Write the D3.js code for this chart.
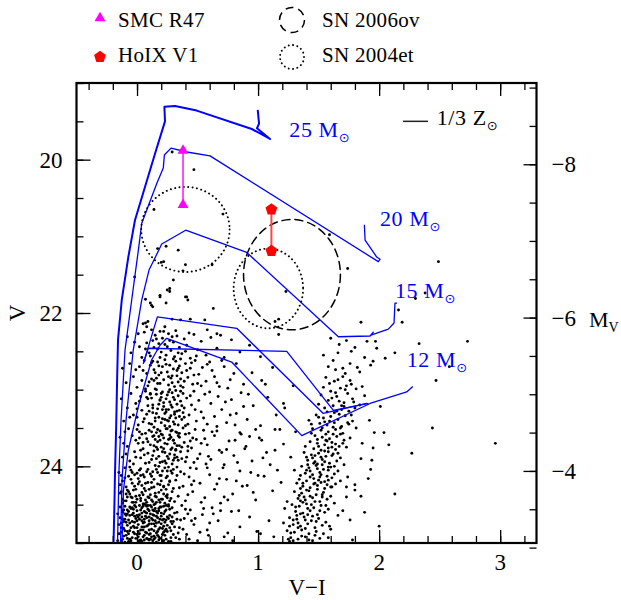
<!DOCTYPE html>
<html>
<head>
<meta charset="utf-8">
<script src="https://cdn.jsdelivr.net/npm/d3@7"></script>
<style>
body { margin: 0; background: #fff; }
text { font-family: "Liberation Serif", "Times New Roman", serif; }
</style>
</head>
<body>
<div id="chart"></div>
<script>
var width = 621;
var height = 600;
var margin = {top: 83, right: 84.5, bottom: 57, left: 76.5};
var w = width - margin.left - margin.right;
var h = height - margin.top - margin.bottom;

// axes
var xDomain = [-0.5, 3.3];
var vDomain = [19, 25];
var distMod = 28.06;
var xMajor = [0, 1, 2, 3];
var vMajor = [20, 22, 24];
var mMajor = [-8, -6, -4];

// evolutionary tracks (V-I, V)
var track25 = [[-0.194,25.00],[-0.186,24.44],[-0.182,24.09],[-0.173,23.53],[-0.165,22.91],[-0.157,22.35],[-0.126,21.83],[-0.072,21.27],[-0.017,20.79],[0.149,19.92],[0.231,19.50],[0.226,19.31],[0.314,19.30],[0.493,19.36],[0.948,19.60],[1.099,19.73],[0.991,19.59],[1.008,19.53],[0.997,19.35]];
var track20 = [[-0.161,25.00],[-0.149,24.05],[-0.132,23.40],[-0.099,22.48],[-0.044,21.83],[0.011,21.18],[0.039,20.83],[0.163,20.31],[0.217,20.11],[0.226,19.94],[0.281,19.85],[0.411,19.90],[0.603,19.95],[1.993,21.33],[2.007,21.30],[1.980,21.27],[1.884,21.05],[1.878,20.85]];
var track15 = [[-0.136,25.00],[-0.124,24.18],[-0.091,23.40],[-0.031,22.48],[0.039,21.83],[0.099,21.44],[0.149,21.28],[0.204,21.10],[0.402,20.92],[0.906,21.21],[1.663,22.31],[1.925,22.30],[1.952,22.25],[1.933,22.29],[2.076,22.21],[2.123,22.13],[2.131,21.87],[2.148,21.87]];
var track12 = [[-0.124,25.00],[-0.112,24.31],[-0.072,23.79],[0.011,23.22],[0.121,22.61],[0.190,22.42],[0.245,22.33],[0.782,22.64],[1.361,23.60],[1.925,23.18],[2.228,23.03],[2.278,22.96]];
var loopA = [[0.052,22.66],[0.168,22.05],[0.824,22.20],[1.539,23.31],[1.898,23.18],[1.911,23.19]];
var loopB = [[0.052,22.66],[0.093,22.46],[1.237,22.50],[1.622,23.27],[1.911,23.18]];

// stars and progenitor error circles
var smcR47 = [[0.38, 19.88], [0.38, 20.59]];
var hoixV1 = [[1.11, 20.65], [1.11, 21.19]];
var sn2006ov = [{x: 1.28, v: 21.50, dx: 0.40, dv: 0.72}];
var sn2004et = [{x: 0.40, v: 20.91, dx: 0.365, dv: 0.555}, {x: 1.085, v: 21.68, dx: 0.287, dv: 0.52}];

// field stars (V-I, V)
var field = [
// bright sparse
[0.29,19.90],[0.47,20.13],[0.14,20.65],[0.71,20.71],[0.24,21.13],[0.17,21.16],[0.34,21.18],[0.20,21.34],[0.40,21.37],[0.62,21.37],[0.38,21.45],[-0.02,21.53],[0.30,21.57],[0.25,21.70],[0.27,21.68],[0.07,21.82],[0.12,21.90],[0.19,21.79],[0.24,21.87],[0.41,21.79],[0.42,21.83],[0.63,21.94],[1.59,20.98],[1.74,21.42],[1.23,21.72],[0.22,21.33],[0.19,21.77],[0.08,22.18],[0.01,22.27],[0.05,22.14],[2.49,21.33],[2.30,21.81],[2.38,21.74],[2.16,21.96],[2.19,22.12],[1.85,22.12],[1.17,22.08],[1.17,22.28],[1.14,22.11],[0.11,21.87],[0.13,21.92],[0.27,21.72],[0.40,21.79],[0.07,22.13],[0.09,22.11],[0.23,22.18],[0.29,22.08],[0.36,22.09],[0.44,22.08],[0.56,22.09],[0.66,22.27],[0.19,22.24],
// blue plume 22.2-22.6
[-0.08,22.31],[0.02,22.44],[0.06,22.25],[0.10,22.52],[0.13,22.36],[0.15,22.29],[0.17,22.47],[0.19,22.58],[0.21,22.33],[0.23,22.41],[0.24,22.55],[0.26,22.27],[0.28,22.49],[0.30,22.38],[0.31,22.57],[0.33,22.30],[0.35,22.45],[0.37,22.53],[0.39,22.34],[0.41,22.42],[0.44,22.59],[0.47,22.28],[0.50,22.48],[0.53,22.37],[0.57,22.55],[0.61,22.32],[0.66,22.46],[0.72,22.58],[0.78,22.35],[0.85,22.51],[0.93,22.42],[1.02,22.57],[-0.05,22.52],[0.04,22.58],[0.08,22.39],[0.12,22.22],[0.18,22.40],[0.22,22.24],[0.27,22.36],[0.32,22.23],[0.36,22.60],[0.43,22.26],[0.49,22.56],[0.58,22.22],[0.69,22.29],[0.11,22.56],[0.20,22.51],[0.25,22.44],[0.14,22.45],[0.29,22.31],[0.34,22.52],[0.16,22.34],[0.07,22.47],[-0.02,22.38],[0.40,22.50],
// 22.6-23.0
[-0.12,22.72],[-0.09,22.91],[-0.06,22.66],[-0.03,22.83],[0.00,22.97],[0.02,22.70],[0.04,22.88],[0.06,22.62],[0.08,22.79],[0.09,22.95],[0.11,22.68],[0.12,22.86],[0.14,22.74],[0.15,22.99],[0.17,22.64],[0.18,22.81],[0.19,22.92],[0.21,22.70],[0.22,22.87],[0.23,22.61],[0.25,22.77],[0.26,22.94],[0.27,22.68],[0.28,22.85],[0.30,22.73],[0.31,22.96],[0.32,22.63],[0.33,22.82],[0.34,22.90],[0.35,22.69],[0.37,22.78],[0.38,22.97],[0.40,22.66],[0.42,22.84],[0.44,22.72],[0.46,22.93],[0.48,22.62],[0.51,22.80],[0.54,22.71],[0.57,22.89],[0.60,22.64],[0.64,22.83],[0.68,22.96],[0.72,22.70],[0.77,22.87],[0.82,22.66],[0.88,22.93],[0.95,22.78],[1.03,22.88],[1.12,22.71],[0.05,22.75],[0.10,22.90],[0.13,22.63],[0.16,22.85],[0.20,22.78],[0.24,22.67],[0.29,22.91],[0.36,22.86],[0.41,22.75],[0.47,22.81],[0.53,22.95],[0.62,22.75],[0.70,22.62],[0.80,22.79],[-0.01,22.74],[0.07,22.99],[0.18,22.69],[0.26,22.83],[0.33,22.75],[0.39,22.89],[0.45,22.65],[0.50,22.92],[0.58,22.67],[0.66,22.91],[0.75,22.98],
// 23.0-23.5
[-0.13,23.12],[-0.11,23.41],[-0.08,23.24],[-0.05,23.05],[-0.03,23.33],[-0.01,23.18],[0.01,23.46],[0.03,23.09],[0.04,23.27],[0.06,23.38],[0.07,23.02],[0.09,23.21],[0.10,23.44],[0.12,23.11],[0.13,23.30],[0.14,23.49],[0.16,23.06],[0.17,23.25],[0.18,23.36],[0.19,23.14],[0.20,23.43],[0.21,23.03],[0.22,23.22],[0.23,23.31],[0.24,23.12],[0.25,23.40],[0.25,23.07],[0.26,23.26],[0.27,23.48],[0.27,23.16],[0.28,23.34],[0.29,23.04],[0.29,23.23],[0.30,23.42],[0.31,23.13],[0.31,23.29],[0.32,23.01],[0.32,23.37],[0.33,23.19],[0.34,23.46],[0.34,23.08],[0.35,23.27],[0.36,23.15],[0.37,23.39],[0.38,23.05],[0.39,23.24],[0.40,23.47],[0.41,23.11],[0.43,23.33],[0.45,23.20],[0.47,23.02],[0.49,23.41],[0.51,23.14],[0.53,23.29],[0.56,23.06],[0.58,23.45],[0.61,23.18],[0.64,23.35],[0.67,23.09],[0.70,23.26],[0.74,23.43],[0.78,23.13],[0.82,23.31],[0.86,23.04],[0.91,23.39],[0.96,23.21],[1.02,23.47],[1.08,23.10],[1.15,23.33],[1.22,23.24],[0.02,23.15],[0.08,23.32],[0.11,23.05],[0.15,23.41],[0.18,23.19],[0.21,23.38],[0.23,23.47],[0.26,23.03],[0.28,23.20],[0.30,23.10],[0.31,23.45],[0.33,23.28],[0.35,23.35],[0.36,23.02],[0.38,23.30],[0.42,23.45],[0.44,23.08],[0.48,23.26],[0.55,23.37],[0.60,23.03],[0.66,23.48],[0.73,23.16],[0.81,23.46],[0.88,23.22],[-0.06,23.36],[0.00,23.25],[0.05,23.42],[0.09,23.12],[0.13,23.20],[0.16,23.31],[0.20,23.10],[0.24,23.26],[0.27,23.37],
// 23.5-24.0
[-0.14,23.62],[-0.12,23.88],[-0.10,23.55],[-0.08,23.74],[-0.06,23.93],[-0.04,23.60],[-0.02,23.81],[0.00,23.52],[0.01,23.70],[0.03,23.89],[0.04,23.58],[0.05,23.77],[0.07,23.96],[0.08,23.64],[0.09,23.83],[0.10,23.53],[0.11,23.72],[0.12,23.91],[0.13,23.61],[0.14,23.80],[0.15,23.99],[0.16,23.56],[0.17,23.68],[0.18,23.87],[0.19,23.54],[0.20,23.75],[0.21,23.94],[0.22,23.63],[0.23,23.82],[0.24,23.51],[0.25,23.71],[0.26,23.90],[0.27,23.59],[0.28,23.78],[0.29,23.97],[0.30,23.66],[0.31,23.85],[0.32,23.55],[0.33,23.73],[0.34,23.92],[0.35,23.62],[0.36,23.81],[0.38,23.50],[0.39,23.69],[0.41,23.88],[0.43,23.57],[0.45,23.76],[0.47,23.95],[0.49,23.65],[0.52,23.84],[0.55,23.53],[0.58,23.72],[0.61,23.91],[0.64,23.60],[0.68,23.79],[0.72,23.98],[0.76,23.67],[0.80,23.86],[0.85,23.56],[0.90,23.74],[0.95,23.93],[1.01,23.63],[1.07,23.82],[1.14,23.52],[1.21,23.71],[-0.11,23.70],[-0.07,23.51],[-0.03,23.97],[0.02,23.63],[0.06,23.85],[0.09,23.68],[0.12,23.55],[0.14,23.73],[0.16,23.90],[0.18,23.61],[0.20,23.58],[0.22,23.77],[0.24,23.96],[0.26,23.65],[0.27,23.84],[0.29,23.53],[0.31,23.70],[0.33,23.88],[0.35,23.57],[0.37,23.75],[0.40,23.94],[0.44,23.67],[0.48,23.52],[0.53,23.70],[0.59,23.87],[0.66,23.54],[0.74,23.78],[0.83,23.95],[0.93,23.61],[1.04,23.89],[-0.09,23.84],[-0.01,23.66],[0.03,23.79],[0.07,23.57],[0.10,23.95],[0.13,23.86],[0.15,23.65],[0.17,23.78],[0.19,23.95],[0.21,23.59],[0.23,23.70],[0.25,23.87],[0.28,23.62],[0.30,23.92],[0.32,23.79],[0.34,23.60],[0.37,23.90],[0.42,23.74],[0.46,23.63],[0.50,23.90],[0.56,23.64],
// 24.0-24.5
[-0.15,24.08],[-0.13,24.33],[-0.12,24.19],[-0.11,24.45],[-0.10,24.02],[-0.09,24.27],[-0.08,24.40],[-0.07,24.13],[-0.06,24.36],[-0.05,24.05],[-0.04,24.22],[-0.03,24.47],[-0.02,24.11],[-0.01,24.30],[0.00,24.43],[0.01,24.16],[0.02,24.38],[0.03,24.03],[0.04,24.25],[0.05,24.49],[0.06,24.14],[0.07,24.32],[0.08,24.07],[0.09,24.21],[0.10,24.41],[0.11,24.10],[0.12,24.28],[0.13,24.46],[0.14,24.17],[0.15,24.35],[0.16,24.04],[0.17,24.23],[0.18,24.44],[0.19,24.12],[0.20,24.31],[0.21,24.06],[0.22,24.26],[0.23,24.48],[0.24,24.15],[0.25,24.37],[0.26,24.01],[0.27,24.20],[0.28,24.42],[0.29,24.09],[0.30,24.29],[0.32,24.18],[0.34,24.39],[0.36,24.07],[0.38,24.26],[0.40,24.45],[0.43,24.14],[0.46,24.33],[0.49,24.03],[0.52,24.22],[0.56,24.41],[0.60,24.11],[0.64,24.30],[0.69,24.48],[0.74,24.17],[0.79,24.36],[0.85,24.06],[0.91,24.25],[0.98,24.44],[1.05,24.13],[1.12,24.32],[1.19,24.21],[-0.14,24.24],[-0.12,24.48],[-0.10,24.15],[-0.08,24.31],[-0.06,24.01],[-0.04,24.41],[-0.02,24.26],[0.00,24.09],[0.02,24.20],[0.03,24.45],[0.05,24.11],[0.06,24.29],[0.08,24.47],[0.09,24.04],[0.11,24.37],[0.12,24.13],[0.14,24.27],[0.15,24.49],[0.17,24.08],[0.18,24.34],[0.20,24.19],[0.21,24.43],[0.23,24.02],[0.24,24.30],[0.26,24.24],[0.28,24.06],[0.31,24.46],[0.33,24.12],[0.35,24.28],[0.39,24.10],[0.42,24.37],[0.47,24.19],[0.53,24.47],[0.58,24.02],[0.66,24.23],[0.72,24.40],[0.82,24.19],[0.94,24.08],[-0.13,24.12],[-0.09,24.36],[-0.05,24.17],[-0.01,24.39],[0.02,24.05],[0.04,24.34],[0.07,24.22],[0.10,24.30],[0.13,24.07],[0.16,24.40],[0.19,24.24],[0.22,24.36],[0.25,24.13],[0.27,24.45],[0.30,24.04],[0.07,24.44],[0.12,24.21],[-0.03,24.31],[0.19,24.47],[0.01,24.23],
// 24.5-25.0
[-0.16,24.62],[-0.15,24.88],[-0.14,24.53],[-0.13,24.74],[-0.12,24.95],[-0.12,24.60],[-0.11,24.81],[-0.10,24.52],[-0.10,24.69],[-0.09,24.90],[-0.08,24.57],[-0.08,24.77],[-0.07,24.98],[-0.06,24.64],[-0.06,24.84],[-0.05,24.55],[-0.04,24.72],[-0.04,24.93],[-0.03,24.61],[-0.02,24.80],[-0.02,24.51],[-0.01,24.68],[0.00,24.89],[0.00,24.58],[0.01,24.76],[0.02,24.97],[0.02,24.63],[0.03,24.83],[0.04,24.54],[0.04,24.71],[0.05,24.92],[0.06,24.59],[0.06,24.79],[0.07,24.50],[0.08,24.67],[0.08,24.87],[0.09,24.56],[0.10,24.75],[0.10,24.96],[0.11,24.62],[0.12,24.82],[0.12,24.53],[0.13,24.70],[0.14,24.91],[0.14,24.58],[0.15,24.78],[0.16,24.99],[0.16,24.65],[0.17,24.85],[0.18,24.55],[0.18,24.73],[0.19,24.94],[0.20,24.61],[0.21,24.81],[0.22,24.52],[0.22,24.69],[0.23,24.90],[0.24,24.57],[0.25,24.77],[0.26,24.98],[0.27,24.64],[0.28,24.84],[0.29,24.54],[0.30,24.72],[0.32,24.93],[0.33,24.60],[0.35,24.80],[0.37,24.51],[0.39,24.68],[0.41,24.89],[0.44,24.57],[0.47,24.76],[0.50,24.97],[0.54,24.63],[0.58,24.83],[0.62,24.54],[0.67,24.71],[0.72,24.92],[0.78,24.59],[0.85,24.79],[0.93,24.66],[1.02,24.88],[-0.14,24.67],[-0.13,24.86],[-0.11,24.57],[-0.10,24.99],[-0.09,24.73],[-0.07,24.59],[-0.06,24.95],[-0.05,24.80],[-0.04,24.63],[-0.03,24.86],[-0.01,24.53],[-0.01,24.94],[0.01,24.66],[0.01,24.85],[0.03,24.57],[0.03,24.96],[0.05,24.74],[0.05,24.52],[0.07,24.86],[0.07,24.65],[0.09,24.95],[0.09,24.77],[0.11,24.51],[0.11,24.88],[0.13,24.63],[0.13,24.97],[0.15,24.71],[0.15,24.55],[0.17,24.90],[0.17,24.67],[0.19,24.80],[0.19,24.53],[0.21,24.97],[0.21,24.70],[0.23,24.59],[0.23,24.84],[0.25,24.66],[0.26,24.52],[0.28,24.93],[0.29,24.75],[0.31,24.61],[0.34,24.87],[0.36,24.70],[0.40,24.56],[0.43,24.95],[0.48,24.68],[0.52,24.86],[0.60,24.74],[0.69,24.58],[0.75,24.87],[-0.15,24.76],[-0.12,24.69],[-0.08,24.85],[-0.05,24.97],[-0.02,24.73],[0.00,24.64],[0.02,24.88],[0.04,24.79],[0.06,24.69],[0.08,24.94],[0.10,24.58],[0.12,24.75],[0.14,24.84],[0.16,24.59],[0.18,24.92],[0.20,24.75],[0.22,24.86],[0.24,24.70],[0.27,24.80],[0.30,24.89],[-0.11,24.91],[-0.07,24.70],[-0.03,24.56],[0.01,24.99],[0.04,24.61],[0.08,24.52],[0.12,24.92],[0.16,24.74],[0.20,24.53],[0.24,24.95],[-0.09,24.64],[0.06,24.96],[0.14,24.64],[0.22,24.78],[-0.13,24.98],[0.10,24.83],
// blue plume, densest parts
[-0.14,24.35],[-0.12,24.58],[-0.11,24.72],[-0.09,24.45],[-0.08,24.62],[-0.07,24.88],[-0.05,24.40],[-0.04,24.54],[-0.03,24.78],[-0.01,24.47],[0.00,24.71],[0.01,24.92],[0.03,24.42],[0.04,24.66],[0.05,24.83],[0.06,24.49],[0.07,24.60],[0.08,24.78],[0.09,24.40],[0.10,24.66],[0.11,24.95],[0.12,24.44],[0.13,24.57],[0.14,24.75],[0.15,24.93],[0.16,24.47],[0.17,24.61],[0.18,24.82],[0.19,24.69],[0.20,24.43],[0.21,24.89],[0.22,24.62],[0.23,24.73],[0.24,24.51],[0.25,24.85],[0.26,24.68],[0.27,24.56],[0.28,24.98],[0.29,24.66],[0.31,24.79],[-0.13,24.80],[-0.10,24.62],[-0.06,24.74],[-0.02,24.88],[0.02,24.69],[0.06,24.90],[0.10,24.71],[0.14,24.50],[0.18,24.96],[0.22,24.97],[-0.16,24.97],[-0.12,24.43],[-0.08,24.94],[-0.04,24.47],[0.00,24.80],[0.04,24.98],[0.08,24.61],[0.12,24.68],[0.16,24.87],[0.20,24.65],[0.24,24.82],[0.28,24.72],[-0.10,24.84],[-0.06,24.53],[-0.02,24.65],[0.02,24.51],[0.06,24.73],[0.10,24.89],[0.14,24.95],[0.18,24.58],[0.33,24.69],[0.38,24.82],[0.45,24.71],[0.35,24.95],[0.42,24.62],[0.05,24.37],[0.15,24.39],[0.25,24.41],[-0.07,24.33],[0.09,24.51],
[0.12,22.65],[0.15,22.78],[0.17,22.92],[0.20,23.05],[0.22,23.17],[0.24,23.29],[0.26,23.41],[0.28,23.54],[0.30,23.66],[0.32,23.78],[0.14,22.88],[0.16,23.00],[0.19,23.13],[0.21,23.26],[0.23,23.39],[0.25,23.51],[0.27,23.64],[0.29,23.76],[0.31,23.89],[0.33,24.01],[0.11,23.06],[0.13,23.24],[0.15,23.37],[0.17,23.52],[0.19,23.66],[0.21,23.81],[0.23,23.93],[0.25,24.06],[0.27,24.19],[0.29,24.33],[0.08,23.10],[0.10,23.28],[0.12,23.45],[0.14,23.60],[0.16,23.75],[0.18,24.00],[0.20,24.12],[0.22,24.27],[0.24,24.39],[0.26,24.50],[0.34,22.72],[0.36,22.95],[0.37,23.21],[0.39,23.36],[0.40,23.58],[0.42,23.80],[0.44,24.02],[0.45,24.24],[0.30,22.60],[0.29,22.82],[0.27,23.00],[0.31,23.32],[0.33,23.56],[0.35,23.73],[0.02,23.55],[0.05,23.69],[-0.01,23.88],[0.03,24.12],[-0.04,24.08],[0.00,23.36],
// middle
[0.62,23.55],[0.71,24.02],[0.77,23.33],[0.84,24.58],[0.89,23.77],[0.96,24.34],[1.03,23.66],[1.09,24.71],[1.16,24.05],[1.24,24.46],[1.27,23.88],[1.18,23.52],[1.10,23.98],[0.99,24.85],[0.87,24.26],[0.79,24.97],[0.70,23.82],[0.63,24.62],[0.57,23.97],[1.13,24.92],[1.21,23.18],[1.06,22.93],[0.92,23.06],[0.86,23.58],[0.75,24.44],[0.68,24.16],[0.98,23.52],[1.26,24.98],[1.31,23.55],[1.29,22.95],[0.55,24.55],[0.59,24.90],[0.81,23.66],[1.00,24.12],[1.14,23.79],
// red plume
[1.73,22.36],[1.80,22.45],[1.66,22.52],[1.88,22.58],[1.62,22.62],[1.76,22.66],[1.70,22.72],[1.84,22.77],[1.58,22.70],[1.93,22.68],[1.67,22.41],[1.77,22.50],[1.54,22.55],[1.98,22.46],[1.72,22.79],[1.60,22.33],[1.82,22.71],[1.90,22.37],[1.64,22.74],[1.95,22.63],
[1.56,22.84],[1.63,22.89],[1.70,22.83],[1.77,22.93],[1.68,22.98],[1.60,23.02],[1.74,23.05],[1.81,22.99],[1.65,23.09],[1.58,23.14],[1.71,23.17],[1.78,23.12],[1.62,23.21],[1.69,23.26],[1.55,23.24],[1.75,23.28],[1.84,23.20],[1.66,22.87],[1.73,22.95],[1.59,22.92],[1.52,23.07],[1.67,23.15],[1.80,23.24],[1.63,23.30],[1.72,23.00],[1.88,23.08],[1.50,23.19],[1.57,23.29],[1.76,22.88],[1.69,23.21],[1.61,23.11],[1.86,22.96],[1.54,22.97],[1.79,23.16],[1.64,23.04],
[1.48,23.33],[1.54,23.37],[1.60,23.35],[1.66,23.39],[1.72,23.34],[1.78,23.41],[1.51,23.44],[1.57,23.46],[1.63,23.43],[1.69,23.48],[1.75,23.45],[1.45,23.51],[1.52,23.53],[1.58,23.55],[1.64,23.52],[1.70,23.57],[1.47,23.60],[1.53,23.62],[1.59,23.64],[1.65,23.61],[1.71,23.66],[1.43,23.68],[1.49,23.70],[1.55,23.72],[1.61,23.69],[1.67,23.74],[1.46,23.77],[1.52,23.79],[1.58,23.76],[1.64,23.78],[1.42,23.40],[1.81,23.50],[1.76,23.63],[1.39,23.74],[1.73,23.75],[1.50,23.36],[1.56,23.58],[1.62,23.49],[1.68,23.58],[1.44,23.57],[1.55,23.42],[1.61,23.75],[1.49,23.65],[1.67,23.32],[1.57,23.67],
[1.38,23.82],[1.44,23.85],[1.50,23.83],[1.56,23.87],[1.62,23.84],[1.68,23.89],[1.41,23.92],[1.47,23.94],[1.53,23.91],[1.59,23.96],[1.65,23.93],[1.36,24.00],[1.42,24.02],[1.48,23.99],[1.54,24.04],[1.60,24.01],[1.66,24.06],[1.39,24.09],[1.45,24.11],[1.51,24.08],[1.57,24.13],[1.63,24.10],[1.34,24.17],[1.40,24.19],[1.46,24.16],[1.52,24.21],[1.58,24.18],[1.64,24.23],[1.37,24.26],[1.43,24.28],[1.49,24.25],[1.55,24.29],[1.61,24.27],[1.32,24.22],[1.71,23.98],[1.74,24.14],[1.30,24.05],[1.45,23.89],[1.51,24.14],[1.57,24.24],[1.43,24.06],[1.49,23.97],[1.55,23.80],[1.61,24.15],[1.35,24.12],[1.68,24.19],[1.47,24.22],[1.53,23.98],[1.40,23.88],[1.58,24.05],
[1.30,24.33],[1.36,24.35],[1.42,24.32],[1.48,24.37],[1.54,24.34],[1.60,24.39],[1.33,24.42],[1.39,24.44],[1.45,24.41],[1.51,24.46],[1.57,24.43],[1.28,24.50],[1.34,24.52],[1.40,24.49],[1.46,24.54],[1.52,24.51],[1.58,24.56],[1.31,24.59],[1.37,24.61],[1.43,24.58],[1.49,24.63],[1.55,24.60],[1.26,24.67],[1.32,24.69],[1.38,24.66],[1.44,24.71],[1.50,24.68],[1.56,24.73],[1.29,24.76],[1.35,24.78],[1.41,24.75],[1.47,24.80],[1.53,24.77],[1.24,24.84],[1.30,24.86],[1.36,24.83],[1.42,24.88],[1.48,24.85],[1.27,24.93],[1.33,24.95],[1.39,24.92],[1.45,24.97],[1.51,24.94],[1.22,24.55],[1.63,24.48],[1.66,24.64],[1.60,24.82],[1.21,24.74],[1.58,24.93],[1.35,24.45],[1.41,24.63],[1.47,24.90],[1.33,24.80],[1.53,24.40],[1.39,24.70],
[1.40,24.05],[1.46,23.96],[1.52,23.88],[1.58,23.81],[1.64,23.71],[1.37,24.22],[1.43,24.14],[1.49,24.03],[1.55,23.94],[1.61,23.86],[1.34,24.38],[1.40,24.31],[1.46,24.23],[1.52,24.11],[1.58,24.01],[1.31,24.53],[1.37,24.47],[1.43,24.39],[1.49,24.30],[1.55,24.20],[1.29,24.70],[1.35,24.62],[1.41,24.55],[1.47,24.46],[1.53,24.37],[1.27,24.87],[1.33,24.74],[1.39,24.81],[1.45,24.65],[1.51,24.58],[1.29,24.97],[1.36,24.91],[1.42,24.96],[1.48,24.72],[1.54,24.88],[1.50,23.74],[1.56,23.66],[1.62,23.58],[1.68,23.50],[1.74,23.43],[1.53,23.50],[1.59,23.41],[1.65,23.28],[1.71,23.22],[1.77,23.33],[1.44,23.45],[1.47,23.86],[1.41,23.98],[1.38,24.40],[1.32,24.64],[1.25,24.95],[1.56,24.51],[1.60,24.27],[1.63,24.00],[1.66,23.83],[1.70,23.70],[1.35,24.29],[1.26,24.78],[1.44,24.50],[1.50,24.18],
// red sparse
[2.47,22.88],[2.44,23.50],[2.96,23.70],[2.27,23.83],[2.13,24.36],[2.08,23.72],[2.04,23.56],[1.96,23.56],[1.95,23.76],[1.94,23.92],[1.93,24.04],[1.91,24.16],[1.86,23.70],[1.85,23.90],[1.85,24.39],[1.73,24.40],[1.70,24.58],[1.59,24.78],[1.73,24.27],[1.78,24.96],[1.80,24.31],[1.80,24.24],[2.73,22.37],[2.33,22.40],[2.05,22.59],[2.13,22.52],[2.58,22.70],[1.97,22.37],[1.92,23.40],[2.01,23.22],[1.88,24.60],[2.00,24.78],[1.76,24.70]
];

var x = d3.scaleLinear().domain(xDomain).range([margin.left, margin.left + w]);
var y = d3.scaleLinear().domain(vDomain).range([margin.top, margin.top + h]);
var yM = d3.scaleLinear().domain([vDomain[0] - distMod, vDomain[1] - distMod]).range([margin.top, margin.top + h]);

var svg = d3.select("#chart").append("svg")
  .attr("width", width)
  .attr("height", height)
  .style("background", "#fff");

svg.append("clipPath").attr("id", "plotclip")
  .append("rect")
  .attr("x", margin.left).attr("y", margin.top)
  .attr("width", w).attr("height", h);

var plot = svg.append("g").attr("clip-path", "url(#plotclip)");

// field stars
plot.selectAll("circle.star")
  .data(field)
  .enter().append("circle")
  .attr("class", "star")
  .attr("cx", function(d) { return x(d[0]); })
  .attr("cy", function(d) { return y(d[1]); })
  .attr("r", 1.45)
  .style("fill", "#000");

// tracks
var line = d3.line()
  .x(function(d) { return x(d[0]); })
  .y(function(d) { return y(d[1]); });

var tracks = [
  {pts: track25, sw: 2},
  {pts: track20, sw: 1.3},
  {pts: track15, sw: 1.3},
  {pts: track12, sw: 1.3},
  {pts: loopA, sw: 1.3},
  {pts: loopB, sw: 1.3}
];
plot.selectAll("path.track")
  .data(tracks)
  .enter().append("path")
  .attr("class", "track")
  .attr("d", function(d) { return line(d.pts); })
  .style("fill", "none")
  .style("stroke", "#0000ff")
  .style("stroke-width", function(d) { return d.sw; })
  .style("stroke-linejoin", "round");

// error circles
function ellipse(sel, data, dash, sw) {
  sel.selectAll(null)
    .data(data)
    .enter().append("ellipse")
    .attr("cx", function(d) { return x(d.x); })
    .attr("cy", function(d) { return y(d.v); })
    .attr("rx", function(d) { return x(d.x + d.dx) - x(d.x); })
    .attr("ry", function(d) { return y(d.v + d.dv) - y(d.v); })
    .style("fill", "none")
    .style("stroke", "#000")
    .style("stroke-width", sw)
    .style("stroke-dasharray", dash)
    .style("stroke-linecap", "round");
}
ellipse(plot, sn2006ov, "8,5", 1.5);
ellipse(plot, sn2004et, "0.1,4.3", 1.9);

// stars with variability range
plot.append("line")
  .attr("x1", x(smcR47[0][0])).attr("y1", y(smcR47[0][1]))
  .attr("x2", x(smcR47[1][0])).attr("y2", y(smcR47[1][1]))
  .style("stroke", "#ff00ff").style("stroke-width", 1.4);
plot.selectAll("path.smc")
  .data(smcR47)
  .enter().append("path")
  .attr("class", "smc")
  .attr("d", d3.symbol().type(d3.symbolTriangle).size(52))
  .attr("transform", function(d) { return "translate(" + x(d[0]) + "," + y(d[1]) + ")"; })
  .style("fill", "#ff00ff");

function pentagon(r) {
  var p = d3.path();
  for (var i = 0; i < 5; i++) {
    var a = -Math.PI / 2 + i * 2 * Math.PI / 5;
    if (i === 0) p.moveTo(r * Math.cos(a), r * Math.sin(a));
    else p.lineTo(r * Math.cos(a), r * Math.sin(a));
  }
  p.closePath();
  return p.toString();
}
plot.append("line")
  .attr("x1", x(hoixV1[0][0])).attr("y1", y(hoixV1[0][1]))
  .attr("x2", x(hoixV1[1][0])).attr("y2", y(hoixV1[1][1]))
  .style("stroke", "#ff4444").style("stroke-width", 2);
plot.selectAll("path.hoix")
  .data(hoixV1)
  .enter().append("path")
  .attr("class", "hoix")
  .attr("d", pentagon(6.2))
  .attr("transform", function(d) { return "translate(" + x(d[0]) + "," + y(d[1]) + ")"; })
  .style("fill", "#ff0000");

// track labels
function massLabel(txt, px, pv, color) {
  var t = svg.append("text")
    .attr("x", x(px)).attr("y", y(pv))
    .style("font-size", "22px")
    .style("letter-spacing", "0.6px")
    .style("fill", color)
    .text(txt);
  t.append("tspan")
    .attr("dy", 5)
    .style("font-family", "DejaVu Sans")
    .style("font-size", "13px")
    .text("\u2299");
}
massLabel("25 M", 1.258, 19.70, "#0000ff");
massLabel("20 M", 2.007, 20.86, "#0000ff");
massLabel("15 M", 2.131, 21.81, "#0000ff");
massLabel("12 M", 2.228, 22.71, "#0000ff");

// metallicity key
svg.append("line")
  .attr("x1", x(2.197)).attr("x2", x(2.404))
  .attr("y1", y(19.50)).attr("y2", y(19.50))
  .style("stroke", "#222").style("stroke-width", 1.5);
massLabel("1/3 Z", 2.476, 19.55, "#000");

// axes
var xMinor = d3.range(-4, 33, 2).map(function(d) { return d / 10; });
var vMinor = d3.range(19, 25.01, 0.5);
var mMinor = d3.range(-9, -2.9, 0.5);

function ticks(axis, tr, vals, len) {
  svg.append("g")
    .attr("transform", tr)
    .call(axis.tickValues(vals).tickSize(-len).tickFormat(""))
    .call(function(g) { g.select(".domain").remove(); })
    .selectAll("line").style("stroke", "#000").style("stroke-width", 1.3);
}
ticks(d3.axisBottom(x), "translate(0," + (margin.top + h) + ")", xMinor, 7);
ticks(d3.axisBottom(x), "translate(0," + (margin.top + h) + ")", xMajor, 13);
ticks(d3.axisTop(x), "translate(0," + margin.top + ")", xMinor, 7);
ticks(d3.axisTop(x), "translate(0," + margin.top + ")", xMajor, 13);
ticks(d3.axisLeft(y), "translate(" + margin.left + ",0)", vMinor, 7);
ticks(d3.axisLeft(y), "translate(" + margin.left + ",0)", vMajor, 14);
ticks(d3.axisRight(yM), "translate(" + (margin.left + w) + ",0)", mMinor, 7);
ticks(d3.axisRight(yM), "translate(" + (margin.left + w) + ",0)", mMajor, 13);

svg.append("rect")
  .attr("x", margin.left).attr("y", margin.top)
  .attr("width", w).attr("height", h)
  .style("fill", "none").style("stroke", "#000").style("stroke-width", 2.2);

// tick labels
svg.selectAll("text.xl").data(xMajor).enter().append("text")
  .attr("x", function(d) { return x(d); })
  .attr("y", margin.top + h + 27)
  .attr("text-anchor", "middle")
  .style("font-size", "23px")
  .text(function(d) { return d; });
svg.selectAll("text.vl").data(vMajor).enter().append("text")
  .attr("x", margin.left - 14)
  .attr("y", function(d) { return y(d) + 8; })
  .attr("text-anchor", "end")
  .style("font-size", "23px")
  .text(function(d) { return d; });
svg.selectAll("text.ml").data(mMajor).enter().append("text")
  .attr("x", margin.left + w + 15)
  .attr("y", function(d) { return yM(d) + 8; })
  .style("font-size", "23px")
  .text(function(d) { return "\u2212" + Math.abs(d); });

// axis titles
svg.append("text")
  .attr("x", 307).attr("y", 595)
  .attr("text-anchor", "middle")
  .style("font-size", "23px")
  .text("V\u2212I");
svg.append("text")
  .attr("transform", "translate(25," + y(22) + ") rotate(-90)")
  .attr("text-anchor", "middle")
  .style("font-size", "23px")
  .text("V");
var mv = svg.append("text")
  .attr("x", 589).attr("y", yM(-6) + 9)
  .style("font-size", "22px")
  .text("M");
mv.append("tspan").attr("dy", 5).style("font-size", "14px").text("V");

// legend
var legend = svg.append("g");
legend.append("path")
  .attr("d", d3.symbol().type(d3.symbolTriangle).size(52))
  .attr("transform", "translate(100,18)")
  .style("fill", "#ff00ff");
legend.append("path")
  .attr("d", pentagon(6.2))
  .attr("transform", "translate(100,57)")
  .style("fill", "#ff0000");
legend.append("circle")
  .attr("cx", 292).attr("cy", 20).attr("r", 12.5)
  .style("fill", "none").style("stroke", "#000").style("stroke-width", 1.5)
  .style("stroke-dasharray", "8,5");
legend.append("circle")
  .attr("cx", 292).attr("cy", 57).attr("r", 12)
  .style("fill", "none").style("stroke", "#000").style("stroke-width", 1.9)
  .style("stroke-dasharray", "0.1,4.3").style("stroke-linecap", "round");
var legendText = [["SMC R47", 118, 27], ["HoIX V1", 118, 62], ["SN 2006ov", 322, 27], ["SN 2004et", 322, 62]];
legend.selectAll("text").data(legendText).enter().append("text")
  .attr("x", function(d) { return d[1]; })
  .attr("y", function(d) { return d[2]; })
  .style("font-size", "21px")
  .style("letter-spacing", "0.3px")
  .text(function(d) { return d[0]; });
</script>
</body>
</html>
